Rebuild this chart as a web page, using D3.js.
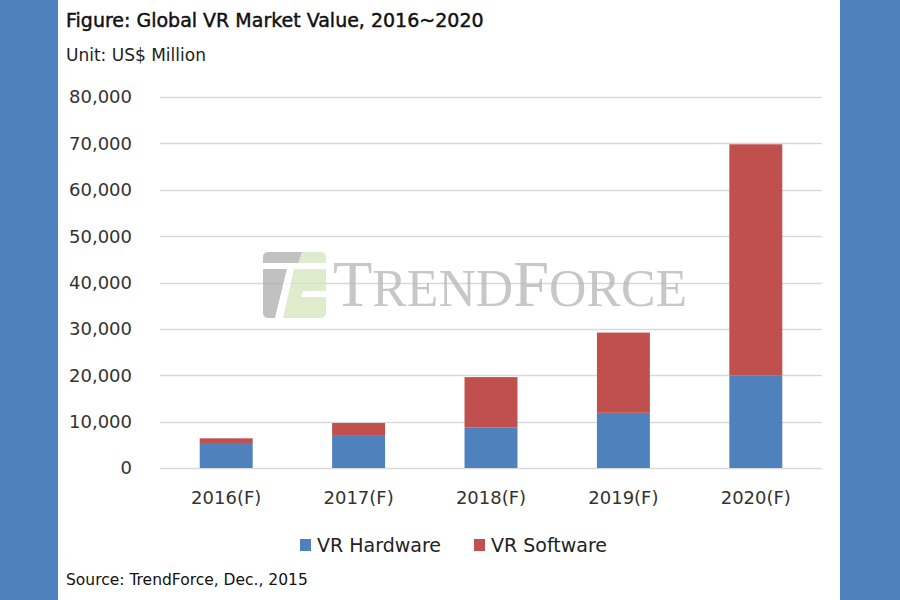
<!DOCTYPE html>
<html><head><meta charset="utf-8">
<script src="https://cdn.jsdelivr.net/npm/d3@7"></script>
<style>html,body{margin:0;padding:0;background:#4f81bd;}svg{display:block;}</style>
</head><body>
<svg id="chart" width="900" height="600"></svg>
<script>
const categories = ["2016(F)", "2017(F)", "2018(F)", "2019(F)", "2020(F)"];
const seriesNames = ["VR Hardware", "VR Software"];
const hardware = [5400, 7100, 8700, 11900, 20000];
const software = [1000, 2600, 10900, 17300, 49800];
const yTicks = [0, 10000, 20000, 30000, 40000, 50000, 60000, 70000, 80000];
const colors = ["#4f81bd", "#c0504d"];

const svg = d3.select("#chart");
svg.append("rect").attr("x", 0).attr("y", 0).attr("width", 900).attr("height", 600).attr("fill", "#4f81bd");
svg.append("rect").attr("x", 58).attr("y", 0).attr("width", 782).attr("height", 600).attr("fill", "#ffffff");

const font = "'DejaVu Sans', 'Noto Sans', sans-serif";
const x = d3.scaleBand().domain(categories).range([160, 822]).paddingInner(0.6).paddingOuter(0.3);
const y = d3.scaleLinear().domain([0, 80000]).range([468, 97]);

// titles
svg.append("text").attr("x", 66).attr("y", 27).attr("font-family", font).attr("font-size", 19)
  .attr("fill", "#111").attr("stroke", "#111").attr("stroke-width", 0.45)
  .text("Figure: Global VR Market Value, 2016~2020");
svg.append("text").attr("x", 66).attr("y", 61).attr("font-family", font).attr("font-size", 17)
  .attr("fill", "#222").text("Unit: US$ Million");

// gridlines
svg.append("g").selectAll("line").data(yTicks).join("line")
  .attr("x1", 160).attr("x2", 822)
  .attr("y1", d => Math.round(y(d)) + 0.5).attr("y2", d => Math.round(y(d)) + 0.5)
  .attr("stroke", "#d9d9d9").attr("stroke-width", 1.3);

// watermark
const wm = svg.append("g").attr("opacity", 0.75);
const defs = svg.append("defs");
defs.append("clipPath").attr("id", "logoClip").append("rect")
  .attr("x", 263).attr("y", 252).attr("width", 63).attr("height", 66).attr("rx", 5);
const logo = wm.append("g").attr("clip-path", "url(#logoClip)");
logo.append("rect").attr("x", 263).attr("y", 252).attr("width", 63).attr("height", 66).attr("fill", "#d3e6bd");
logo.append("path").attr("d", "M263,252 L302,252 L298,263 L263,263 Z").attr("fill", "#adadad");
logo.append("rect").attr("x", 263).attr("y", 263).attr("width", 63).attr("height", 6).attr("fill", "#fff");
logo.append("path").attr("d", "M263,269 L287,269 L275,318 L263,318 Z").attr("fill", "#adadad");
logo.append("path").attr("d", "M287,269 L294,269 L283,318 L275,318 Z").attr("fill", "#fff");
logo.append("path").attr("d", "M303,291 L326,291 L326,297 L301,297 Z").attr("fill", "#fff");
const wt = wm.append("text").attr("x", 333).attr("y", 306).attr("font-family", "'Liberation Serif', 'DejaVu Serif', serif")
  .attr("fill", "#b5b5b5").attr("textLength", 354).attr("lengthAdjust", "spacingAndGlyphs");
[["T", 66], ["REND", 53], ["F", 66], ["ORCE", 53]].forEach(([t, s]) => wt.append("tspan").attr("font-size", s).text(t));

// bars
const stacked = d3.stack().keys([0, 1]).value((d, k) => d[k])(categories.map((c, i) => [hardware[i], software[i]]));
svg.append("g").selectAll("g").data(stacked).join("g").attr("fill", (d, i) => colors[i])
  .selectAll("rect").data(d => d).join("rect")
  .attr("x", (d, i) => x(categories[i])).attr("width", x.bandwidth())
  .attr("y", d => y(d[1])).attr("height", d => y(d[0]) - y(d[1]));

// y axis labels
svg.append("g").selectAll("text").data(yTicks).join("text")
  .attr("x", 132).attr("y", d => y(d)).attr("dy", "0.36em").attr("text-anchor", "end")
  .attr("font-family", font).attr("font-size", 18).attr("fill", "#333")
  .text(d => d3.format(",")(d));

// x axis labels
svg.append("g").selectAll("text").data(categories).join("text")
  .attr("x", d => x(d) + x.bandwidth() / 2).attr("y", 504).attr("text-anchor", "middle")
  .attr("font-family", font).attr("font-size", 18).attr("fill", "#333").text(d => d);

// legend
const legX = [300, 474];
const leg = svg.append("g").selectAll("g").data(seriesNames).join("g")
  .attr("transform", (d, i) => `translate(${legX[i]},0)`);
leg.append("rect").attr("x", 0).attr("y", 539).attr("width", 11).attr("height", 12).attr("fill", (d, i) => colors[i]);
leg.append("text").attr("x", 17).attr("y", 552).attr("font-family", font).attr("font-size", 19)
  .attr("fill", "#222").text(d => d);

// source
svg.append("text").attr("x", 66).attr("y", 585).attr("font-family", font).attr("font-size", 15.5)
  .attr("fill", "#111").text("Source: TrendForce, Dec., 2015");
</script>
</body></html>
